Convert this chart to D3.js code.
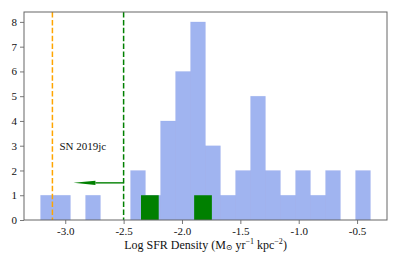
<!DOCTYPE html>
<html>
<head>
<meta charset="utf-8">
<script src="https://cdn.jsdelivr.net/npm/d3@7"></script>
<style>
  body { margin: 0; background: #fff; }
  svg text { font-family: "Liberation Serif", "DejaVu Serif", serif; fill: #111; }
</style>
</head>
<body>
<svg id="chart" width="399" height="266"></svg>
<script>
// Histogram of all host sites (blue), 22 equal bins
const blueStart = -3.212;
const blueEnd = -0.385;
const blueCounts = [1, 1, 0, 1, 0, 0, 2, 1, 4, 6, 8, 3, 1, 2, 5, 2, 1, 2, 1, 2, 0, 2];

// Second histogram (green), 4 equal bins
const greenStart = -2.351;
const greenEnd = -1.744;
const greenCounts = [1, 0, 0, 1];

// Reference lines and annotation
const snValue = -3.11;
const limitValue = -2.5;
const arrowEnd = -2.93;
const arrowY = 1.5;
const snLabel = 'SN 2019jc';
const snLabelPos = [-3.05, 3];

const xTicks = [-3.0, -2.5, -2.0, -1.5, -1.0, -0.5];
const yTicks = [0, 1, 2, 3, 4, 5, 6, 7, 8];

const margin = { top: 12, right: 12, bottom: 46, left: 24 };
const width = 399, height = 266;

const svg = d3.select('#chart');

// bin helper
function makeBins(start, end, counts) {
    const w = (end - start) / counts.length;
    return counts.map((c, i) => ({ x0: start + i * w, x1: start + (i + 1) * w, count: c }));
}
const blueBins = makeBins(blueStart, blueEnd, blueCounts);
const greenBins = makeBins(greenStart, greenEnd, greenCounts);

// matplotlib-style 5% padding
const pad = (blueEnd - blueStart) * 0.05;
const x = d3.scaleLinear()
    .domain([blueStart - pad, blueEnd + pad])
    .range([margin.left, width - margin.right]);
const y = d3.scaleLinear()
    .domain([0, d3.max(blueCounts) * 1.05])
    .range([height - margin.bottom, margin.top]);

// blue bars
svg.append('g').selectAll('rect')
    .data(blueBins.filter(d => d.count > 0))
    .join('rect')
    .attr('x', d => x(d.x0))
    .attr('width', d => x(d.x1) - x(d.x0))
    .attr('y', d => y(d.count))
    .attr('height', d => y(0) - y(d.count))
    .attr('fill', '#4169e1')
    .attr('fill-opacity', 0.5)
    .attr('stroke', '#4169e1')
    .attr('stroke-opacity', 0.08)
    .attr('stroke-width', 0.6);

// green bars
svg.append('g').selectAll('rect')
    .data(greenBins.filter(d => d.count > 0))
    .join('rect')
    .attr('x', d => x(d.x0))
    .attr('width', d => x(d.x1) - x(d.x0))
    .attr('y', d => y(d.count))
    .attr('height', d => y(0) - y(d.count))
    .attr('fill', '#008000');

// dashed vertical lines
svg.append('line')
    .attr('x1', x(snValue)).attr('x2', x(snValue))
    .attr('y1', y.range()[1]).attr('y2', y.range()[0])
    .attr('stroke', '#ffa500').attr('stroke-width', 1.5)
    .attr('stroke-dasharray', '5.5,2.4');
svg.append('line')
    .attr('x1', x(limitValue)).attr('x2', x(limitValue))
    .attr('y1', y.range()[1]).attr('y2', y.range()[0])
    .attr('stroke', '#008000').attr('stroke-width', 1.5)
    .attr('stroke-dasharray', '5.5,2.4');

// arrow pointing left from the limit line
const ax0 = x(limitValue), ax1 = x(arrowEnd), ay = y(arrowY);
const headLen = 22;
svg.append('line')
    .attr('x1', ax0).attr('x2', ax1 + headLen)
    .attr('y1', ay).attr('y2', ay)
    .attr('stroke', '#008000').attr('stroke-width', 1.4);
svg.append('path')
    .attr('d', `M${ax1},${ay} L${ax1 + headLen},${ay - 2.2} L${ax1 + headLen},${ay + 2.2} Z`)
    .attr('fill', '#008000');

// annotation text
svg.append('text')
    .attr('x', x(snLabelPos[0]))
    .attr('y', y(snLabelPos[1]))
    .attr('dy', '0.35em')
    .attr('font-size', 11)
    .text(snLabel);

// axes
const xAxis = svg.append('g')
    .attr('transform', `translate(0,${height - margin.bottom})`)
    .call(d3.axisBottom(x).tickValues(xTicks).tickFormat(d3.format('.1f')).tickSize(4).tickPadding(3));
const yAxis = svg.append('g')
    .attr('transform', `translate(${margin.left},0)`)
    .call(d3.axisLeft(y).tickValues(yTicks).tickFormat(d3.format('d')).tickSize(4).tickPadding(3));
[xAxis, yAxis].forEach(a => {
    a.select('.domain').remove();
    a.selectAll('.tick line').attr('stroke', '#555').attr('stroke-width', 0.8);
    a.selectAll('.tick text').attr('font-size', 11).attr('font-family', '"Liberation Serif", serif').attr('fill', '#111');
});
xAxis.selectAll('.tick text').text(d => d3.format('.1f')(d).replace('−', '-'));

// frame
svg.append('rect')
    .attr('x', margin.left).attr('y', margin.top)
    .attr('width', width - margin.left - margin.right)
    .attr('height', height - margin.top - margin.bottom)
    .attr('fill', 'none').attr('stroke', '#666').attr('stroke-width', 1);

// x label
const label = svg.append('text')
    .attr('x', (margin.left + width - margin.right) / 2)
    .attr('y', 246)
    .attr('text-anchor', 'middle')
    .attr('dominant-baseline', 'middle')
    .attr('font-size', 12);
label.append('tspan').text('Log SFR Density (M');
label.append('tspan').attr('font-size', 8).attr('dy', 2).text('⊙');
label.append('tspan').attr('dy', -2).text(' yr');
label.append('tspan').attr('font-size', 8).attr('dy', -4).text('−1');
label.append('tspan').attr('dy', 4).text(' kpc');
label.append('tspan').attr('font-size', 8).attr('dy', -4).text('−2');
label.append('tspan').attr('dy', 4).text(')');
</script>
</body>
</html>
